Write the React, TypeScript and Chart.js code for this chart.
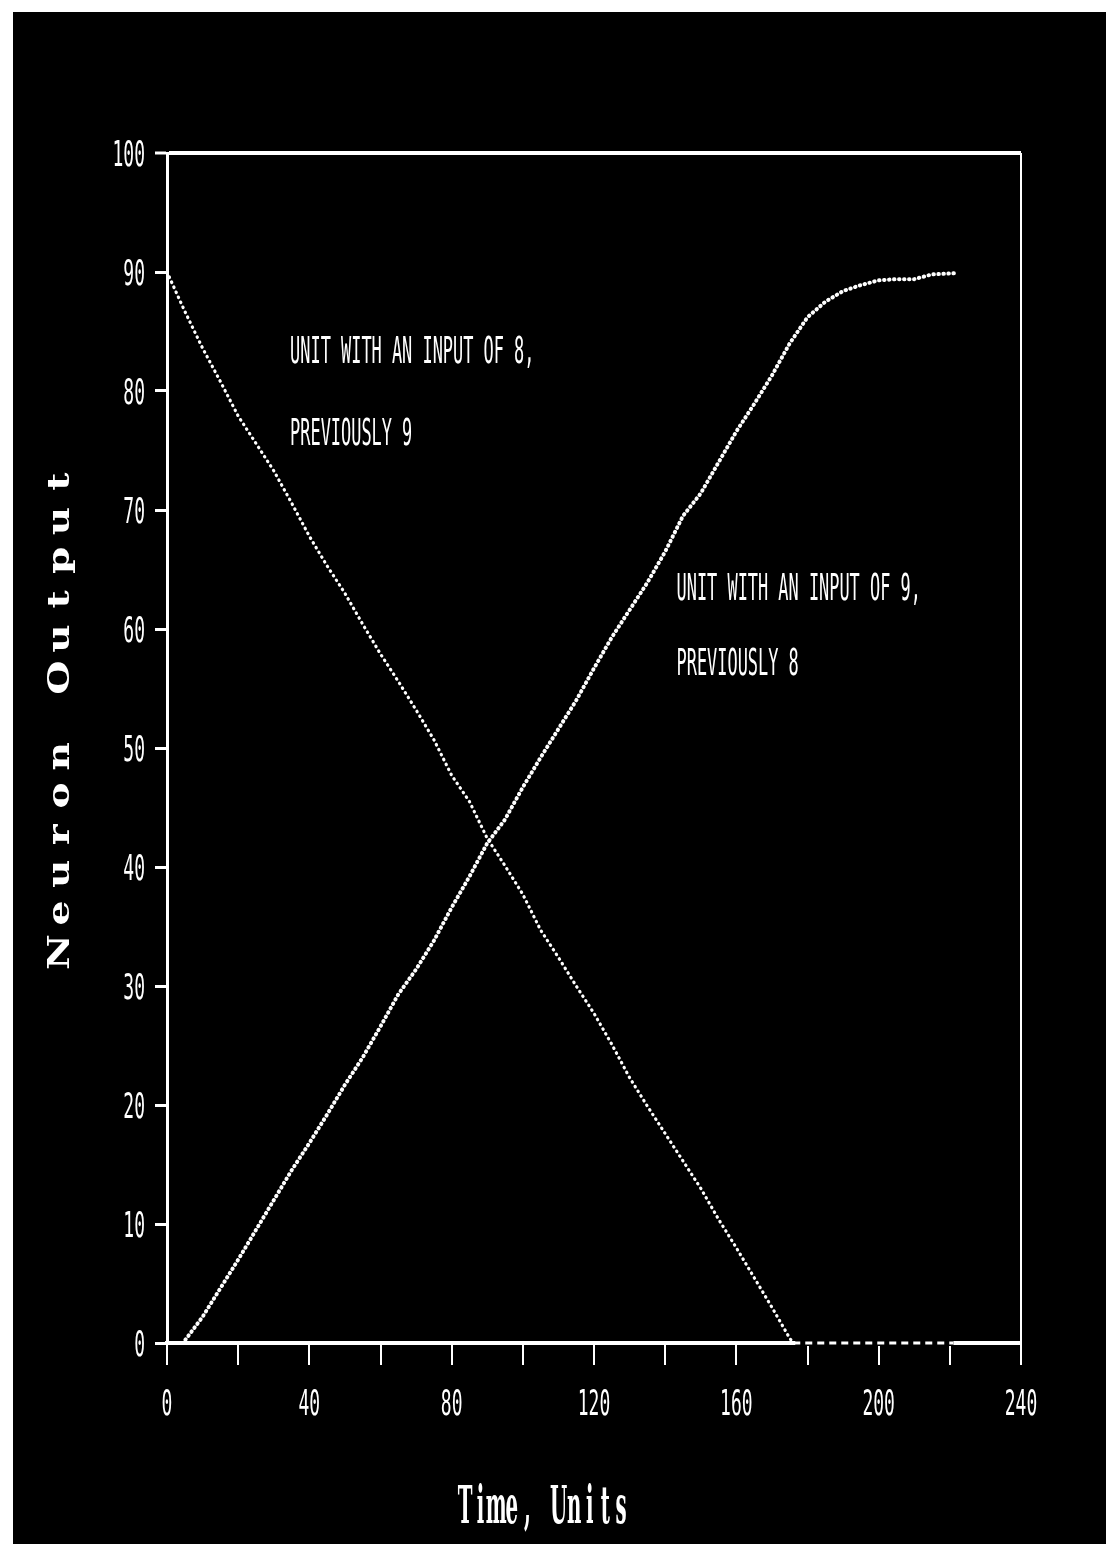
import React, { useEffect, useRef } from "react";
import { Chart, registerables } from "chart.js";

Chart.register(...registerables);

// Unit with an input of 8, previously 9 (falling curve)
const TIME_A = [0, 5, 10, 15, 20, 25, 30, 35, 40, 45, 50, 55, 60, 65, 70, 75, 80, 85, 90, 95, 100, 105, 110, 115, 120, 125, 130, 135, 140, 145, 150, 155, 160, 165, 170, 175, 176, 221];
const VALUES_A = [90, 86.7, 83.6, 80.8, 77.9, 75.6, 73.3, 70.6, 67.8, 65.3, 63, 60.4, 57.9, 55.6, 53.2, 50.7, 47.7, 45.5, 42.4, 40.1, 37.7, 34.7, 32.4, 30, 27.7, 25.1, 22.3, 19.9, 17.6, 15.3, 13, 10.4, 8, 5.5, 3, 0.4, 0, 0];

// Unit with an input of 9, previously 8 (rising curve)
const TIME_B = [0, 4.5, 10, 15, 20, 25, 30, 35, 40, 45, 50, 55, 60, 65, 70, 75, 80, 85, 90, 95, 100, 105, 110, 115, 120, 125, 130, 135, 140, 145, 150, 155, 160, 165, 170, 175, 180, 185, 190, 195, 200, 205, 210, 215, 222];
const VALUES_B = [0, 0, 2.2, 4.6, 7, 9.5, 12, 14.5, 16.8, 19.2, 21.7, 24, 26.6, 29.3, 31.4, 33.8, 36.6, 39.2, 42, 44, 46.7, 49.2, 51.6, 54, 56.7, 59.3, 61.6, 63.9, 66.5, 69.5, 71.4, 74, 76.6, 78.9, 81.3, 84, 86.2, 87.5, 88.4, 88.9, 89.3, 89.4, 89.4, 89.8, 89.9];

const Y_TICK_LABELS = [0, 10, 20, 30, 40, 50, 60, 70, 80, 90, 100];
const X_TICK_LABELS = [0, 40, 80, 120, 160, 200, 240];

const X_TITLE = "Time, Units";
const Y_TITLE = "Neuron Output";

const NOTE_TEXTS = ["UNIT WITH AN INPUT OF 8,", "PREVIOUSLY 9", "UNIT WITH AN INPUT OF 9,", "PREVIOUSLY 8"];
const NOTE_T = [34.6, 34.6, 143.2, 143.2];
const NOTE_V = [83.5, 76.6, 63.6, 57.3];

const MONO = '"DejaVu Sans Mono", monospace';
const SERIF = '"DejaVu Serif", "Liberation Serif", serif';

function drawScaled(
  ctx: CanvasRenderingContext2D,
  text: string,
  x: number,
  yCenter: number,
  align: CanvasTextAlign,
  font: string,
  size: number,
  capRatio: number,
  sx: number
) {
  ctx.save();
  ctx.translate(x, yCenter + (capRatio * size) / 2);
  ctx.scale(sx, 1);
  ctx.font = `${size}px ${font}`;
  ctx.textAlign = align;
  ctx.textBaseline = "alphabetic";
  ctx.fillText(text, 0, 0);
  ctx.restore();
}

// draws spaced characters centred on (0,0) of the current transform
function drawSpaced(ctx: CanvasRenderingContext2D, text: string, pitch: number, capH: number, sx: number) {
  const chars = text.split("");
  chars.forEach((c, i) => {
    ctx.save();
    ctx.translate((i - (chars.length - 1) / 2) * pitch, capH / 2);
    ctx.scale(sx, 1);
    ctx.textAlign = "center";
    ctx.textBaseline = "alphabetic";
    ctx.fillText(c, 0, 0);
    ctx.restore();
  });
}

const textPlugin = {
  id: "retroText",
  beforeDatasetsDraw(chart: any) {
    // the flat zero run of the falling curve erases the axis between its dashes
    const { ctx, scales } = chart;
    const xs = scales.x;
    const ys = scales.y;
    ctx.save();
    ctx.strokeStyle = "#000000";
    ctx.lineWidth = 6;
    for (let i = 1; i < TIME_A.length; i++) {
      if (VALUES_A[i] === 0 && VALUES_A[i - 1] === 0) {
        ctx.beginPath();
        ctx.moveTo(xs.getPixelForValue(TIME_A[i - 1]) + 2, ys.getPixelForValue(0));
        ctx.lineTo(xs.getPixelForValue(TIME_A[i]), ys.getPixelForValue(0));
        ctx.stroke();
      }
    }
    ctx.restore();
  },
  afterDraw(chart: any) {
    const { ctx, chartArea, scales } = chart;
    const xs = scales.x;
    const ys = scales.y;
    ctx.save();
    ctx.fillStyle = "#ffffff";

    for (const v of Y_TICK_LABELS) {
      drawScaled(ctx, String(v), chartArea.left - 22, ys.getPixelForValue(v), "right", MONO, 36, 0.729, 0.5);
    }
    for (const v of X_TICK_LABELS) {
      drawScaled(ctx, String(v), xs.getPixelForValue(v), chartArea.bottom + 59, "center", MONO, 36, 0.729, 0.5);
    }
    NOTE_TEXTS.forEach((t, i) => {
      drawScaled(ctx, t, xs.getPixelForValue(NOTE_T[i]), ys.getPixelForValue(NOTE_V[i]), "left", MONO, 38, 0.729, 0.445);
    });

    // x title
    ctx.save();
    ctx.translate(chartArea.left + 376, chartArea.bottom + 161);
    ctx.font = `bold 52px ${SERIF}`;
    drawSpaced(ctx, X_TITLE, 15.6, 0.729 * 52, 0.38);
    ctx.restore();

    // y title (rotated, spaced letters)
    ctx.save();
    const cy = (chartArea.top + chartArea.bottom) / 2 - 31;
    ctx.translate(chartArea.left - 109, cy);
    ctx.rotate(-Math.PI / 2);
    ctx.font = `bold 29px ${SERIF}`;
    drawSpaced(ctx, Y_TITLE, 39.2, 0.729 * 29, 1.35);
    ctx.restore();

    ctx.restore();
  },
};

export default function App() {
  const ref = useRef<HTMLCanvasElement>(null);

  useEffect(() => {
    const canvas = ref.current;
    if (!canvas) return;
    const dataA = TIME_A.map((t, i) => ({ x: t, y: VALUES_A[i] }));
    const dataB = TIME_B.map((t, i) => ({ x: t, y: VALUES_B[i] }));
    const isZero = (ctx: any) => ctx.p0.parsed.y === 0 && ctx.p1.parsed.y === 0;

    const chart = new Chart(canvas, {
      type: "line",
      data: {
        datasets: [
          {
            label: "Unit with an input of 8, previously 9",
            data: dataA,
            borderColor: "#ffffff",
            borderWidth: 3.2,
            borderDash: [0.5, 5],
            borderCapStyle: "round",
            pointRadius: 0,
            tension: 0,
            clip: false,
            segment: {
              borderDash: (c: any) => (isZero(c) ? [7, 5] : undefined),
              borderCapStyle: (c: any) => (isZero(c) ? "butt" : undefined),
            },
          } as any,
          {
            label: "Unit with an input of 9, previously 8",
            data: dataB,
            borderColor: "#ffffff",
            borderWidth: 4,
            borderDash: [0.5, 4.5],
            borderCapStyle: "round",
            pointRadius: 0,
            tension: 0,
            clip: false,
          } as any,
        ],
      },
      options: {
        responsive: false,
        animation: false,
        events: [],
        layout: { padding: { left: 0, top: 141, right: 85, bottom: 0 } },
        plugins: { legend: { display: false }, tooltip: { enabled: false } },
        scales: {
          x: {
            type: "linear",
            min: 0,
            max: 240,
            afterFit: (s: any) => {
              s.height = 201;
            },
            ticks: { display: false, stepSize: 20 },
            grid: {
              color: (c: any) => (c.tick && c.tick.value === 240 ? "#ffffff" : "rgba(0,0,0,0)"),
              tickColor: "#ffffff",
              lineWidth: 2,
              tickWidth: 2,
              tickLength: 22,
              drawTicks: true,
            },
            border: { display: true, color: "#ffffff", width: 4 },
            title: { display: false },
          },
          y: {
            type: "linear",
            min: 0,
            max: 100,
            afterFit: (s: any) => {
              s.width = 154;
            },
            ticks: { display: false, stepSize: 10 },
            grid: {
              color: (c: any) => (c.tick && c.tick.value === 100 ? "#ffffff" : "rgba(0,0,0,0)"),
              tickColor: "#ffffff",
              lineWidth: (c: any) => (c.tick && c.tick.value === 100 ? 4 : 3),
              tickWidth: 3,
              tickLength: 12,
              drawTicks: true,
            },
            border: { display: true, color: "#ffffff", width: 3 },
            title: { display: false },
          },
        },
      } as any,
      plugins: [textPlugin],
    });
    return () => chart.destroy();
  }, []);

  return (
    <div
      style={{
        position: "absolute",
        left: 13,
        top: 12,
        width: 1093,
        height: 1532,
        background: "#000000",
        overflow: "hidden",
      }}
    >
      <canvas ref={ref} width={1093} height={1532} style={{ display: "block" }} />
    </div>
  );
}
